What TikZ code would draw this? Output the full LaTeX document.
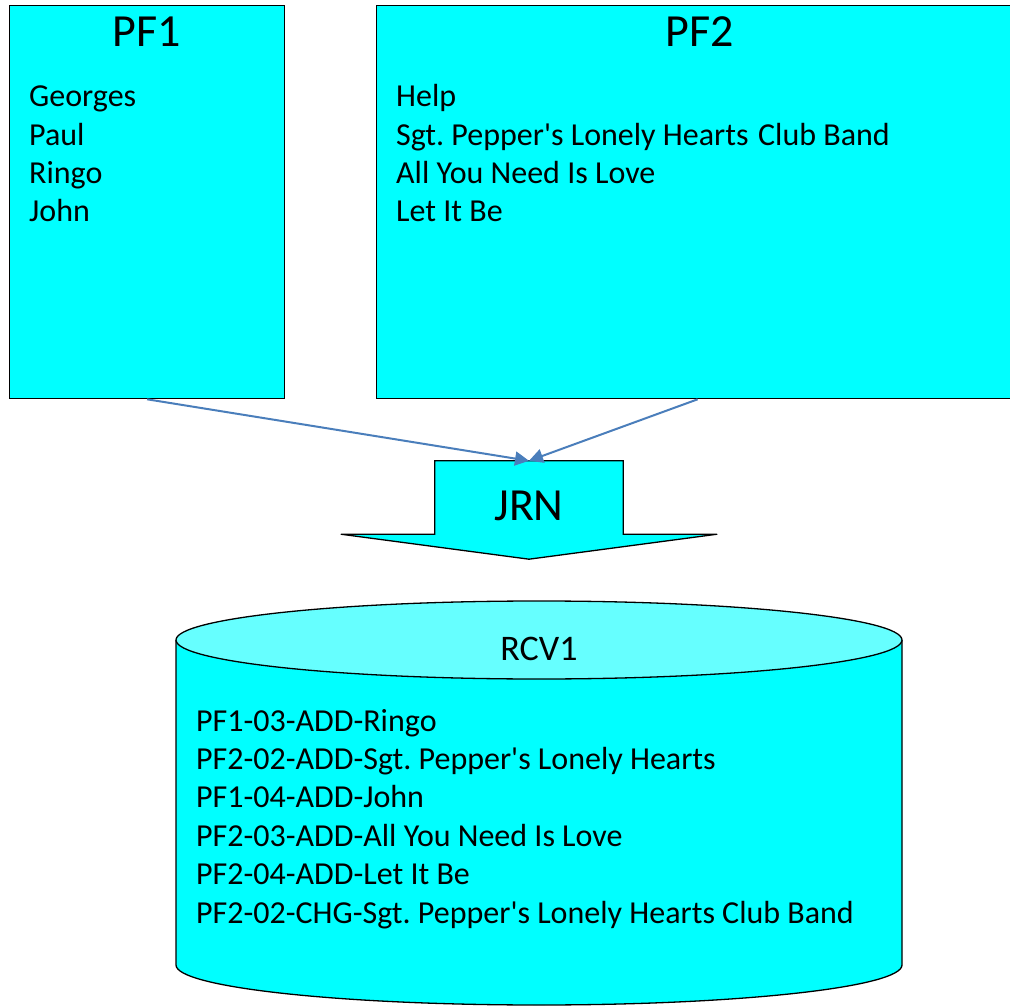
\documentclass[tikz,border=0pt]{standalone}
\usepackage{fontspec}
\setmainfont{Carlito}[Ligatures=TeXOff]
\usetikzlibrary{arrows.meta,calc}
\definecolor{boxcyan}{HTML}{00FFFF}
\definecolor{topcyan}{HTML}{66FFFF}
\definecolor{linkblue}{HTML}{4A7EBB}
\frenchspacing
\tikzset{
  fbox/.style={draw=black, fill=boxcyan, line width=1.3pt},
  titletext/.style={font=\fontsize{46}{50}\selectfont, inner sep=0pt, anchor=base},
  itemtext/.style={font=\fontsize{32}{38}\selectfont, inner sep=0pt, anchor=base west},
  link/.style={draw=linkblue, line width=2pt, -{Triangle[length=14pt,width=14pt]}}
}
\begin{document}
\frenchspacing
\begin{tikzpicture}[x=1pt,y=1pt]
\useasboundingbox (0,0) rectangle (1010,-1008);
\clip (0,0) rectangle (1010,-1008);
% boxes
\node[fbox, minimum width=275pt, minimum height=393pt, anchor=north west, inner sep=0pt] (pf1) at (9,-5) {};
\node[fbox, minimum width=642pt, minimum height=393pt, anchor=north west, inner sep=0pt] (pf2) at (376,-5) {};
\node[titletext] (pf1title) at (146.5,-47) {PF1};
\node[titletext] (pf2title) at (700,-47) {PF2};
\foreach \t [count=\i] in {Georges, Paul, Ringo, John}
  \node[itemtext] (pfa\i) at (29,{-107-38.3*(\i-1)}) {\t};
\foreach \t [count=\i] in {Help, {Sgt. Pepper's Lonely Hearts\hspace{0.3em}Club Band}, All You Need Is Love, Let It Be}
  \node[itemtext] (pfb\i) at (396,{-107-38.3*(\i-1)}) {\t};
% JRN block arrow
\node[minimum width=188pt, minimum height=73pt, inner sep=0pt] (jrn) at (529,-497.5) {};
\draw[fbox] (jrn.north west) -- (jrn.north east) -- (jrn.south east) -- ++(94pt,0)
  -- ($(jrn.south)+(0,-25pt)$) -- ($(jrn.south west)+(-94pt,0)$) -- (jrn.south west) -- cycle;
\node[titletext] (jrnlabel) at (529,-520) {JRN};
% connectors
\draw[link] (pf1.south) -- (jrn.north);
\draw[link] (pf2.south) -- (jrn.north);
% cylinder
\fill[boxcyan] (176,-640) -- (176,-965) arc[start angle=180,end angle=360,x radius=363pt,y radius=40pt] -- (902,-640) -- cycle;
\draw[line width=1.3pt] (176,-640) -- (176,-965) arc[start angle=180,end angle=360,x radius=363pt,y radius=40pt] -- (902,-640);
\filldraw[fill=topcyan, draw=black, line width=1.3pt] (539,-640) ellipse[x radius=363pt, y radius=39pt];
\node[font=\fontsize{36}{40}\selectfont, inner sep=0pt, anchor=base] (rcv) at (539,-660) {RCV1};
\foreach \t [count=\i] in {PF1-03-ADD-Ringo, PF2-02-ADD-Sgt. Pepper's Lonely Hearts, PF1-04-ADD-John, PF2-03-ADD-All You Need Is Love, PF2-04-ADD-Let It Be, PF2-02-CHG-Sgt. Pepper's Lonely Hearts Club Band}
  \node[itemtext] (rc\i) at (196,{-731-38.4*(\i-1)}) {\t};
\end{tikzpicture}
\end{document}
